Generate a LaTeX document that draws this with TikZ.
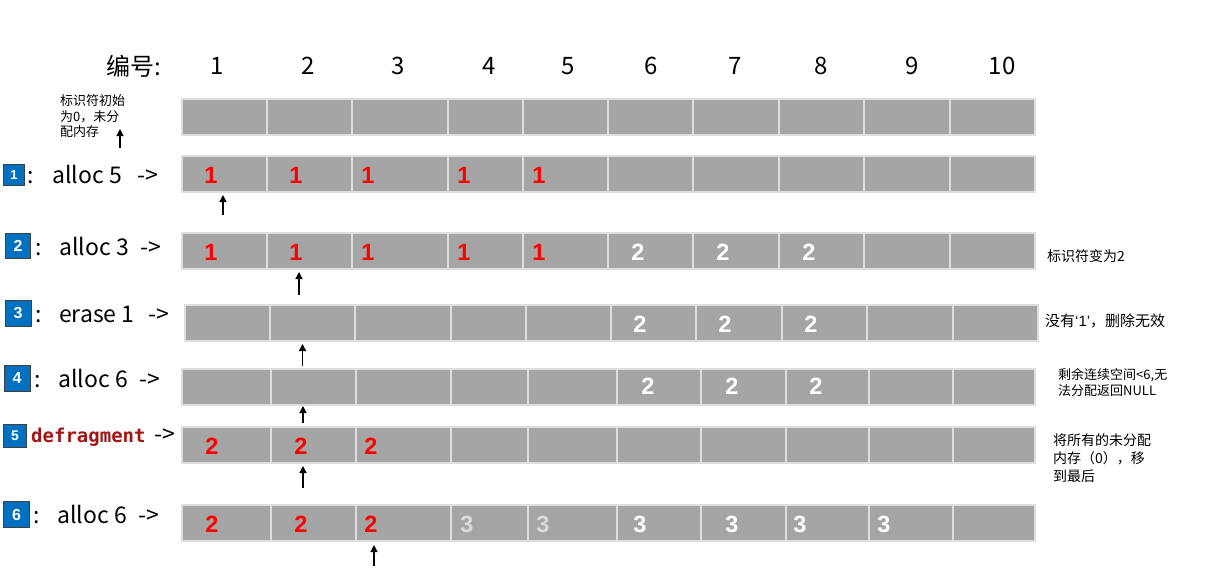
\documentclass[tikz,border=0pt]{standalone}
\usepackage{fontspec}
\setmainfont{Noto Sans CJK SC}
\newfontfamily\numfont{Liberation Sans}
\newfontfamily\codefont{DejaVu Sans Mono}
\usetikzlibrary{arrows.meta}
\definecolor{cellgray}{RGB}{165,165,165}
\definecolor{cellline}{RGB}{222,222,222}
\definecolor{badgeblue}{RGB}{0,112,192}
\definecolor{fadegray}{RGB}{218,218,218}
\definecolor{codered}{RGB}{163,21,21}
\tikzset{
  cell/.style={draw=cellline, fill=cellgray, line width=1.5pt, inner sep=0pt, outer sep=0pt,
               minimum height=36pt, anchor=north west},
  redval/.style={text=red, inner sep=0pt, font=\numfont\bfseries\fontsize{23.5}{24}\selectfont},
  whiteval/.style={redval, text=white},
  fadeval/.style={redval, text=fadegray},
  badge/.style={fill=badgeblue, draw=black!75, line width=1pt, text=white, inner sep=0pt,
                minimum size=25pt, font=\numfont\bfseries\fontsize{16}{16}\selectfont},
  cmd/.style={anchor=base west, inner sep=0pt, font=\fontsize{23}{23}\selectfont},
  head/.style={inner sep=0pt, font=\fontsize{24}{24}\selectfont},
  note/.style={anchor=west, align=left, inner sep=0pt, font=\fontsize{13}{15.5}\selectfont},
  ptr/.style={-{Triangle[length=7pt,width=7pt]}, line width=1.3pt},
}
\begin{document}
\begin{tikzpicture}[x=1pt,y=-1pt]
  \useasboundingbox (0,0) rectangle (1207,570);
  % header
  \node[head] (hd) at (134,66) {编号:};
  \foreach \x [count=\i] in {217,308,398,489,568,651,735,821,912,1002}
    \node[head] (h\i) at (\x,66) {\i};
  % memory rows
  \foreach \r/\y in {0/99,1/156,2/233}
    \foreach \a/\b [count=\i] in {182/267,267/352,352/448,448/523,523/608,608/693,693/779,779/864,864/950,950/1035}
      \node[cell, minimum width=\b pt-\a pt] (r\r-\i) at (\a,\y) {};
  \foreach \a/\b [count=\i] in {185/270,270/355,355/451,451/526,526/611,611/696,696/782,782/867,867/953,953/1038}
    \node[cell, minimum width=\b pt-\a pt] (r3-\i) at (\a,305) {};
  \foreach \r/\y in {4/369,5/427,6/505}
    \foreach \a/\b [count=\i] in {182/271,271/356,356/451,451/528,528/617,617/701,701/786,786/869,869/953,953/1035}
      \node[cell, minimum width=\b pt-\a pt] (r\r-\i) at (\a,\y) {};
  % values
  \foreach \x [count=\i] in {211,296,368,464,539} {
    \node[redval] (v1-\i) at (\x,175.5) {1};
    \node[redval] (v2-\i) at (\x,252) {1};
  }
  \foreach \x [count=\i] in {638,723,809} \node[whiteval] (w2-\i) at (\x,252) {2};
  \foreach \x [count=\i] in {640,725,811} \node[whiteval] (w3-\i) at (\x,324.5) {2};
  \foreach \x [count=\i] in {648,732,816} \node[whiteval] (w4-\i) at (\x,386) {2};
  \foreach \x [count=\i] in {212,301,371} {
    \node[redval] (v5-\i) at (\x,446.5) {2};
    \node[redval] (v6-\i) at (\x,524.5) {2};
  }
  \foreach \x [count=\i] in {467,543} \node[fadeval] (f6-\i) at (\x,524.5) {3};
  \foreach \x [count=\i] in {640,732,800,884} \node[whiteval] (w6-\i) at (\x,524.5) {3};
  % operations
  \node[badge, minimum size=21pt, font=\numfont\bfseries\fontsize{13}{13}\selectfont] (b1) at (14,175) {1};
  \node[badge] (b2) at (18,246) {2};
  \node[badge, minimum size=26pt] (b3) at (18,313) {3};
  \node[badge, minimum size=26pt] (b4) at (17,378) {4};
  \node[badge, minimum size=23pt, font=\numfont\bfseries\fontsize{14}{14}\selectfont] (b5) at (15,436) {5};
  \node[badge, minimum size=26pt] (b6) at (16.5,514.5) {6};
  \foreach \n/\cx/\x/\ax/\y/\t in {1/31/52/137/183/alloc 5, 2/39/59/140/255/alloc 3, 3/39/59/148/322/erase 1,
                                    4/38/58/139/387/alloc 6, 6/37/57/138/523/alloc 6} {
    \node[cmd, anchor=base] (c\n) at (\cx,\y) {:};
    \node[cmd] (o\n) at (\x,\y) {\t};
    \node[cmd] (a\n) at (\ax,\y) {->};
  }
  \node[cmd, text=codered, font=\codefont\bfseries\fontsize{19}{19}\selectfont] (o5) at (31,442) {defragment};
  \node[cmd] (a5) at (154,442) {->};
  % notes
  \node[note] (n0) at (60,116.5) {标识符初始\\为0，未分\\配内存};
  \node[note, font=\fontsize{14}{16}\selectfont] (n2) at (1047,256) {标识符变为2};
  \node[note, font=\fontsize{15}{17}\selectfont] (n3) at (1045,321) {没有{\numfont ‘1’}，删除无效};
  \node[note, font=\fontsize{13}{16}\selectfont] (n4) at (1058,383) {剩余连续空间<6,无\\法分配返回NULL};
  \node[note, font=\fontsize{14}{18}\selectfont] (n5) at (1053,458.5) {将所有的未分配\\内存（0），移\\到最后};
  % pointers
  \foreach \n/\x/\a/\b in {0/120/148/129, 1/223/215/195, 2/299/295/272, 3/302.5/366/344,
                           4/303/423/406, 5/303/488/466, 6/374/566/545} {
    \coordinate (t\n) at (\x,\a);
    \coordinate (p\n) at (\x,\b);
    \draw[ptr] (t\n) -- (p\n);
  }
\end{tikzpicture}
\end{document}
